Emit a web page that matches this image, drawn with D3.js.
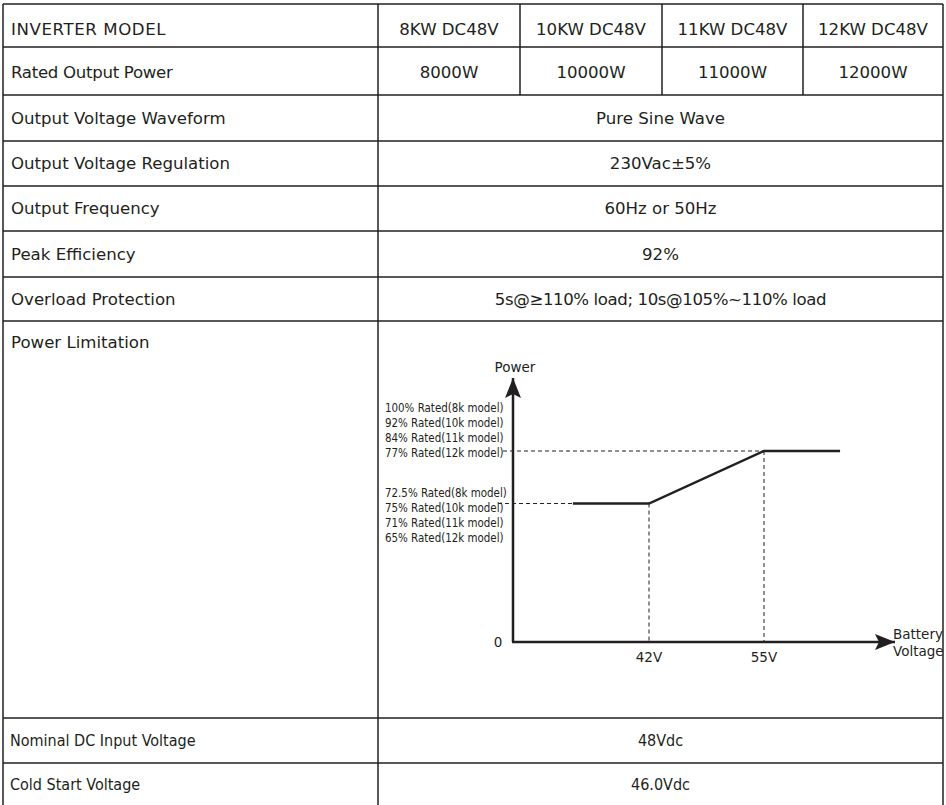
<!DOCTYPE html>
<html>
<head>
	<title>inverter spec</title>
	<style>
	body { margin: 0; background: #fff; }
	.cell { font-family: "DejaVu Sans", Verdana, sans-serif; font-size: 16.6px; fill: #231f20; dominant-baseline: central; }
	.cond { font-family: "DejaVu Sans", sans-serif; font-stretch: condensed; font-size: 16px; }
	.note { font-family: "DejaVu Sans", sans-serif; font-stretch: condensed; font-size: 13px; fill: #231f20; dominant-baseline: central; }
	.axlab { font-family: "DejaVu Sans", Verdana, sans-serif; font-size: 13.5px; fill: #231f20; dominant-baseline: central; }
	</style>
	<script src="https://d3js.org/d3.v7.min.js"></script>
</head>
<body>
	<script type="text/javascript">
		// 表格数据
		var models = ['8KW DC48V', '10KW DC48V', '11KW DC48V', '12KW DC48V'];
		var ratedPower = ['8000W', '10000W', '11000W', '12000W'];
		var specLabels = ['Output Voltage Waveform', 'Output Voltage Regulation', 'Output Frequency', 'Peak Efficiency', 'Overload Protection'];
		var specValues = ['Pure Sine Wave', '230Vac\u00b15%', '60Hz or 50Hz', '92%', '5s@\u2265110% load; 10s@105%~110% load'];
		var bottomLabels = ['Nominal DC Input Voltage', 'Cold Start Voltage'];
		var bottomValues = ['48Vdc', '46.0Vdc'];

		// 功率限制曲线
		var upperLabels = ['100% Rated(8k model)', '92% Rated(10k model)', '84% Rated(11k model)', '77% Rated(12k model)'];
		var lowerLabels = ['72.5% Rated(8k model)', '75% Rated(10k model)', '71% Rated(11k model)', '65% Rated(12k model)'];
		var voltTicks = [42, 55];
		var curveVolt = [33.4, 42, 55, 63.6];
		var curvePower = [72.5, 72.5, 100, 100];

		var svgWidth = 946;
		var svgHeight = 805;
		var ink = '#231f20';

		var colX = [3, 378, 520, 662, 803, 943];
		var rowY = [4, 47, 95, 141, 186, 231, 277, 321, 718, 763, 812];

		var svg = d3.select('body').append('svg')
			.attr('width', svgWidth)
			.attr('height', svgHeight);

		// 表格线
		var grid = svg.append('g')
			.attr('stroke', ink)
			.attr('stroke-width', 1.5);
		rowY.slice(0, rowY.length - 1).forEach(function (y) {
			grid.append('line').attr('x1', colX[0]).attr('x2', colX[5]).attr('y1', y).attr('y2', y);
		});
		grid.append('line').attr('x1', colX[0]).attr('x2', colX[0]).attr('y1', rowY[0]).attr('y2', svgHeight);
		grid.append('line').attr('x1', colX[1]).attr('x2', colX[1]).attr('y1', rowY[0]).attr('y2', svgHeight);
		grid.append('line').attr('x1', colX[5]).attr('x2', colX[5]).attr('y1', rowY[0]).attr('y2', svgHeight);
		[2, 3, 4].forEach(function (c) {
			grid.append('line').attr('x1', colX[c]).attr('x2', colX[c]).attr('y1', rowY[0]).attr('y2', rowY[2]);
		});

		function mid(a, b) { return (a + b) / 2; }

		// 第一、二行
		svg.append('text').attr('class', 'cell').attr('x', 11).attr('y', mid(rowY[0], rowY[1]) + 4)
			.attr('letter-spacing', 0.6).text('INVERTER MODEL');
		svg.append('text').attr('class', 'cell').attr('x', 11).attr('y', mid(rowY[1], rowY[2]) + 1)
			.attr('letter-spacing', -0.3).text('Rated Output Power');
		svg.selectAll('text.model').data(models).enter().append('text')
			.attr('class', 'cell model')
			.attr('text-anchor', 'middle')
			.attr('x', function (d, i) { return mid(colX[i + 1], colX[i + 2]); })
			.attr('y', mid(rowY[0], rowY[1]) + 4)
			.text(function (d) { return d; });
		svg.selectAll('text.power').data(ratedPower).enter().append('text')
			.attr('class', 'cell power')
			.attr('text-anchor', 'middle')
			.attr('x', function (d, i) { return mid(colX[i + 1], colX[i + 2]); })
			.attr('y', mid(rowY[1], rowY[2]) + 1)
			.text(function (d) { return d; });

		// 合并行
		specLabels.forEach(function (d, i) {
			var yc = mid(rowY[i + 2], rowY[i + 3]);
			svg.append('text').attr('class', 'cell').attr('x', 11).attr('y', yc).text(d);
			svg.append('text').attr('class', 'cell').attr('text-anchor', 'middle')
				.attr('x', mid(colX[1], colX[5])).attr('y', yc)
				.attr('letter-spacing', i === 4 ? -0.4 : 0)
				.text(specValues[i]);
		});
		svg.append('text').attr('class', 'cell').attr('x', 11).attr('y', rowY[7] + 21).text('Power Limitation');

		bottomLabels.forEach(function (d, i) {
			var yc = mid(rowY[i + 8], Math.min(rowY[i + 9], svgHeight));
			svg.append('text').attr('class', 'cell cond').attr('x', 10).attr('y', yc).text(d);
			svg.append('text').attr('class', 'cell cond').attr('text-anchor', 'middle')
				.attr('x', mid(colX[1], colX[5])).attr('y', yc).text(bottomValues[i]);
		});

		// 曲线图
		var ox = 513, oy = 642;
		var x = d3.scaleLinear().domain([42, 55]).range([649, 764]);
		var y = d3.scaleLinear().domain([0, 100]).range([oy, 451]);
		var axisTop = 378, axisRight = 895;

		svg.append('defs').append('marker')
			.attr('id', 'arrow')
			.attr('viewBox', '0 -5 10 10')
			.attr('markerUnits', 'userSpaceOnUse')
			.attr('markerWidth', 20)
			.attr('markerHeight', 20)
			.attr('refX', 10)
			.attr('refY', 0)
			.attr('orient', 'auto')
			.append('path')
			.attr('d', 'M0,-4L10,0L0,4L2,0Z')
			.attr('fill', ink);

		var chart = svg.append('g');

		// 虚线
		chart.append('line')
			.attr('x1', 503).attr('x2', x(55))
			.attr('y1', y(100)).attr('y2', y(100))
			.attr('stroke', ink).attr('stroke-width', 1).attr('stroke-dasharray', '4,3');
		chart.append('line')
			.attr('x1', 498).attr('x2', x(42))
			.attr('y1', y(72.5)).attr('y2', y(72.5))
			.attr('stroke', ink).attr('stroke-width', 1).attr('stroke-dasharray', '4,3');
		chart.selectAll('line.vdash').data(voltTicks).enter().append('line')
			.attr('class', 'vdash')
			.attr('x1', function (d) { return x(d); }).attr('x2', function (d) { return x(d); })
			.attr('y1', function (d, i) { return y(i === 0 ? 72.5 : 100); }).attr('y2', oy)
			.attr('stroke', ink).attr('stroke-width', 1).attr('stroke-dasharray', '4,3');

		// 坐标轴
		chart.append('line')
			.attr('x1', ox).attr('y1', oy).attr('x2', ox).attr('y2', axisTop)
			.attr('stroke', ink).attr('stroke-width', 2.5).attr('marker-end', 'url(#arrow)');
		chart.append('line')
			.attr('x1', ox - 1).attr('y1', oy).attr('x2', axisRight).attr('y2', oy)
			.attr('stroke', ink).attr('stroke-width', 2.5).attr('marker-end', 'url(#arrow)');

		// 曲线
		var pts = curveVolt.map(function (v, i) { return [v, curvePower[i]]; });
		chart.append('path')
			.datum(pts)
			.attr('fill', 'none')
			.attr('stroke', ink)
			.attr('stroke-width', 2.5)
			.attr('d', d3.line().x(function (d) { return x(d[0]); }).y(function (d) { return y(d[1]); }));

		// 文字
		chart.append('text').attr('class', 'axlab').attr('text-anchor', 'middle').attr('x', ox + 2).attr('y', 367).text('Power');
		chart.append('text').attr('class', 'axlab').attr('text-anchor', 'middle').attr('x', 498).attr('y', oy).text('0');
		chart.selectAll('text.vt').data(voltTicks).enter().append('text')
			.attr('class', 'axlab vt').attr('text-anchor', 'middle')
			.attr('x', function (d) { return x(d); }).attr('y', oy + 15)
			.text(function (d) { return d + 'V'; });
		chart.append('text').attr('class', 'axlab').attr('x', 893).attr('y', oy - 8).text('Battery');
		chart.append('text').attr('class', 'axlab').attr('x', 893).attr('y', oy + 9).text('Voltage');

		// 窄体标注
		var noteScale = 0.88;
		chart.selectAll('text.up').data(upperLabels).enter().append('text')
			.attr('class', 'note up')
			.attr('transform', function (d, i) { return 'translate(385,' + (408 + i * 15) + ') scale(' + noteScale + ',1)'; })
			.text(function (d) { return d; });
		chart.selectAll('text.low').data(lowerLabels).enter().append('text')
			.attr('class', 'note low')
			.attr('transform', function (d, i) { return 'translate(385,' + (493 + i * 15) + ') scale(' + noteScale + ',1)'; })
			.text(function (d) { return d; });
	</script>
</body>
</html>
